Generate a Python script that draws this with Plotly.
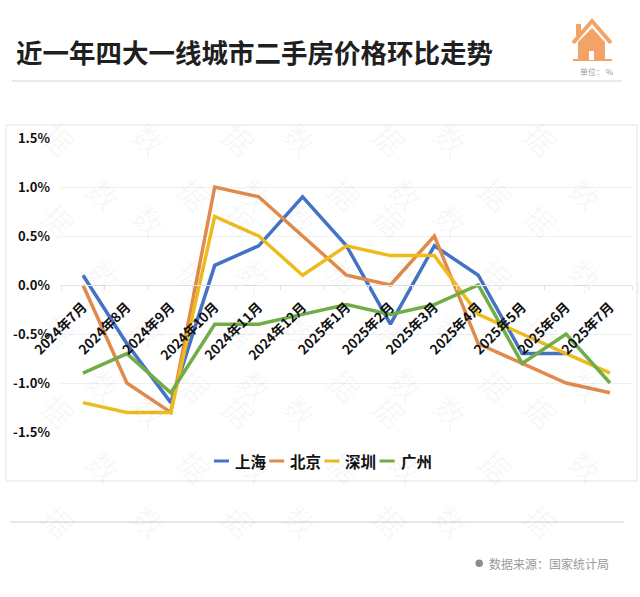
import plotly.graph_objects as go

W, H = 640, 597

months = ['2024年7月', '2024年8月', '2024年9月', '2024年10月', '2024年11月', '2024年12月', '2025年1月',
          '2025年2月', '2025年3月', '2025年4月', '2025年5月', '2025年6月', '2025年7月']
shanghai = [0.1, -0.6, -1.2, 0.2, 0.4, 0.9, 0.4, -0.4, 0.4, 0.1, -0.7, -0.7, None]
beijing = [0.0, -1.0, -1.3, 1.0, 0.9, 0.5, 0.1, 0.0, 0.5, -0.6, -0.8, -1.0, -1.1]
shenzhen = [-1.2, -1.3, -1.3, 0.7, 0.5, 0.1, 0.4, 0.3, 0.3, -0.3, -0.5, -0.7, -0.9]
guangzhou = [-0.9, -0.7, -1.1, -0.4, -0.4, -0.3, -0.2, -0.3, -0.2, 0.0, -0.8, -0.5, -1.0]
y_ticks = [1.5, 1.0, 0.5, 0.0, -0.5, -1.0, -1.5]
y_labels = ['1.5%', '1.0%', '0.5%', '0.0%', '-0.5%', '-1.0%', '-1.5%']

FONT = 'Noto Sans CJK SC'
ORANGE = '#F2A365'


# pixel positions to paper coordinates
def px(x):
    return x / W


def py(y):
    return 1 - y / H


def poly(points):
    return 'M ' + ' L '.join(f'{px(x):.4f},{py(y):.4f}' for x, y in points) + ' Z'


fig = go.Figure()

series = [('上海', shanghai, '#4472C4'), ('北京', beijing, '#E08A4C'),
          ('深圳', shenzhen, '#EDBB1B'), ('广州', guangzhou, '#70AD47')]
for name, values, color in series:
    fig.add_trace(go.Scatter(x=months, y=values, name=name, mode='lines', showlegend=False,
                             line=dict(color=color, width=3.5, simplify=False)))

shapes = [
    # chart frame and rules
    dict(type='rect', xref='paper', yref='paper', x0=px(6), x1=px(637), y0=py(125), y1=py(481),
         line=dict(color='#EDEDED', width=1.5), layer='below'),
    dict(type='line', xref='paper', yref='paper', x0=px(12), x1=px(622), y0=py(81), y1=py(81),
         line=dict(color='#D4D4D4', width=1)),
    dict(type='line', xref='paper', yref='paper', x0=px(10), x1=px(624), y0=py(522), y1=py(522),
         line=dict(color='#CFCFCF', width=1)),
    # house icon
    dict(type='path', xref='paper', yref='paper', fillcolor=ORANGE, line=dict(width=0),
         path=poly([(592, 28), (605, 42), (605, 60), (578, 60), (578, 42)])),
    dict(type='path', xref='paper', yref='paper', fillcolor=ORANGE, line=dict(width=0),
         path=poly([(576, 24), (581, 24), (581, 36), (576, 36)])),
    dict(type='path', xref='paper', yref='paper', line=dict(color=ORANGE, width=4),
         path=f'M {px(573)},{py(43)} L {px(592)},{py(21)} L {px(611)},{py(43)}'),
    dict(type='rect', xref='paper', yref='paper', x0=px(573), x1=px(612), y0=py(59), y1=py(61),
         fillcolor=ORANGE, line=dict(width=0)),
    dict(type='rect', xref='paper', yref='paper', x0=px(589), x1=px(594), y0=py(51), y1=py(60),
         fillcolor='white', line=dict(width=0)),
    # source dot
    dict(type='circle', xref='paper', yref='paper', x0=px(475.5), x1=px(483), y0=py(559.5), y1=py(567),
         fillcolor='#8C8C8C', line=dict(width=0)),
]

annotations = [
    dict(text='<b>近一年四大一线城市二手房价格环比走势</b>', x=px(14), y=py(51), xanchor='left', yanchor='middle',
         showarrow=False, xref='paper', yref='paper', font=dict(size=26.5, color='#1F1F1F', family=FONT)),
    dict(text='单位： %', x=px(597), y=py(72), xanchor='center', yanchor='middle',
         showarrow=False, xref='paper', yref='paper', font=dict(size=8, color='#9A9A9A', family=FONT)),
    dict(text='数据来源：国家统计局', x=px(487), y=py(563), xanchor='left', yanchor='middle',
         showarrow=False, xref='paper', yref='paper', font=dict(size=12, color='#9A9A9A', family=FONT)),
]

# legend: Excel-style short keys, the built-in legend keys are too long here
for i, (name, values, color) in enumerate(series):
    left = 214 + i * 55.2
    shapes.append(dict(type='line', xref='paper', yref='paper', x0=px(left), x1=px(left + 15),
                       y0=py(461), y1=py(461), line=dict(color=color, width=3)))
    annotations.append(dict(text=f'<b>{name}</b>', x=px(left + 19), y=py(461), xanchor='left', yanchor='middle',
                            showarrow=False, xref='paper', yref='paper',
                            font=dict(size=15.5, color='#111111', family=FONT)))

# faint background watermark
for row, wy in enumerate(range(110, 597, 55)):
    for col, wx in enumerate(range(30 + 45 * (row % 2), 630, 90)):
        annotations.append(dict(text='数' if (row + col) % 2 else '据', x=px(wx), y=py(wy), textangle=45,
                                showarrow=False, xref='paper', yref='paper',
                                font=dict(size=30, color='rgba(0,0,0,0.04)', family=FONT)))

dom_y = [py(432), py(138)]
fig.update_layout(
    width=W, height=H, margin=dict(l=0, r=0, t=0, b=0, pad=0, autoexpand=False),
    paper_bgcolor='white', plot_bgcolor='white',
    font=dict(family=FONT, color='#111111'),
    shapes=shapes, annotations=annotations,
    showlegend=False,
    xaxis=dict(domain=[px(61), px(632)], anchor='free', position=(dom_y[0] + dom_y[1]) / 2,
               type='category', range=[-0.5, 12.5], tickson='boundaries', ticks='outside', ticklen=4,
               tickcolor='#E4E4E4', showline=True, linecolor='#E4E4E4', linewidth=1, showgrid=False,
               zeroline=False, tickangle=-45, ticklabelstandoff=8,
               tickfont=dict(size=13.5, color='#111111', family=FONT, weight=700)),
    yaxis=dict(domain=dom_y, range=[-1.5, 1.5], tickmode='array', tickvals=y_ticks, ticktext=y_labels,
               showgrid=True, gridcolor='#F0F0F0', gridwidth=1, zeroline=False, showline=False,
               ticks='', ticklabelstandoff=10, tickfont=dict(size=13, color='#111111', family=FONT, weight=700)),
)

fig.write_html("out.html", config=dict(displayModeBar=False),
               post_script="document.body.style.margin='0';document.body.style.overflow='hidden';")
